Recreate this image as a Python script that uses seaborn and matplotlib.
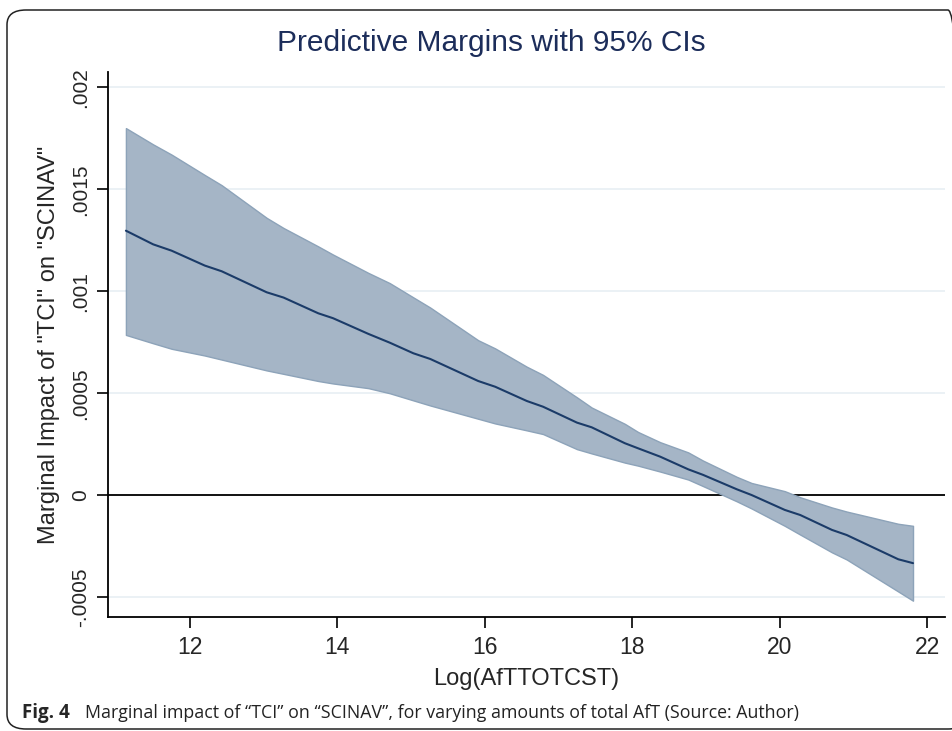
import numpy as np
import pandas as pd
import matplotlib
matplotlib.use("Agg")
import matplotlib.pyplot as plt
import seaborn as sns
from matplotlib.patches import FancyBboxPatch

# values
log_aft = [11.13, 11.50, 11.75, 12.20, 12.43, 13.04, 13.27, 13.74, 13.94, 14.42,
           14.71, 15.03, 15.26, 15.91, 16.14, 16.57, 16.79, 17.25, 17.45, 17.90,
           18.08, 18.38, 18.76, 18.96, 19.42, 19.62, 20.07, 20.28, 20.71, 20.91,
           21.61, 21.81]
margin = [0.001297, 0.001230, 0.001199, 0.001126, 0.001098, 0.000995, 0.000969,
          0.000892, 0.000868, 0.000791, 0.000748, 0.000696, 0.000668, 0.000560,
          0.000532, 0.000462, 0.000434, 0.000356, 0.000333, 0.000255, 0.000230,
          0.000189, 0.000127, 0.000100, 0.000029, 0.000001, -0.000072, -0.000097,
          -0.000170, -0.000195, -0.000314, -0.000333]
ci_upper = [0.00180, 0.00172, 0.00167, 0.00157, 0.00152, 0.00136, 0.00131,
            0.00122, 0.00118, 0.00109, 0.00104, 0.00097, 0.00092, 0.00076,
            0.00072, 0.00063, 0.00059, 0.00048, 0.00043, 0.00035, 0.00031,
            0.00026, 0.00021, 0.00017, 0.00009, 0.00006, 0.00002, -0.00001,
            -0.00006, -0.00008, -0.00014, -0.00015]
ci_lower = [0.000786, 0.000745, 0.000718, 0.000685, 0.000665, 0.000612, 0.000595,
            0.000560, 0.000548, 0.000525, 0.000500, 0.000465, 0.000440, 0.000375,
            0.000352, 0.000318, 0.000300, 0.000226, 0.000205, 0.000160, 0.000145,
            0.000116, 0.000077, 0.000045, -0.000030, -0.000065, -0.000150,
            -0.000193, -0.000280, -0.000315, -0.000472, -0.000517]

y_ticks = [-0.0005, 0, 0.0005, 0.001, 0.0015, 0.002]
y_tick_labels = ["-.0005", "0", ".0005", ".001", ".0015", ".002"]
x_ticks = [12, 14, 16, 18, 20, 22]

df = pd.DataFrame({"x": log_aft, "y": margin, "lo": ci_lower, "hi": ci_upper})

sns.set_style("white")
plt.rcParams["font.family"] = ["Liberation Sans", "DejaVu Sans"]

fig = plt.figure(figsize=(9.53, 7.31), dpi=100)
ax = fig.add_axes([108 / 953, 114 / 731, 837 / 953, 545 / 731])

# outer rounded frame
frame = FancyBboxPatch((7 / 953, 2 / 731), 960 / 953, 719 / 731,
                       boxstyle="round,pad=0,rounding_size=0.02",
                       transform=fig.transFigure, fill=False,
                       edgecolor="#222222", lw=1.1, clip_on=False)
fig.patches.append(frame)

for t in y_ticks:
    ax.axhline(t, color="#e8eff3", lw=1.2, zorder=0)
ax.axhline(0, color="black", lw=1.3, zorder=1)

ax.fill_between(df["x"], df["lo"], df["hi"], color="#a5b5c6",
                edgecolor="#8da3b9", lw=1, zorder=2)
sns.lineplot(data=df, x="x", y="y", ax=ax, color="#1b3b68", lw=1.5, zorder=3)

ax.set_xlim(10.887, 22.244)
ax.set_ylim(-0.000597, 0.002075)
ax.set_xticks(x_ticks)
ax.set_yticks(y_ticks)
ax.set_yticklabels(y_tick_labels, rotation=90, va="center")
ax.tick_params(axis="x", bottom=True, direction="out", length=8, width=1.2,
               labelsize=16.5, pad=6, color="black")
ax.tick_params(axis="y", left=True, direction="out", length=8, width=1.2,
               labelsize=15, pad=5, color="black")

for s in ["top", "right"]:
    ax.spines[s].set_visible(False)
for s in ["left", "bottom"]:
    ax.spines[s].set_color("black")
    ax.spines[s].set_linewidth(1.3)

ax.set_xlabel("Log(AfTTOTCST)", fontsize=17, labelpad=6)
ax.set_ylabel('Marginal Impact of "TCI" on "SCINAV"', fontsize=17, labelpad=8)

fig.text(491 / 953, 1 - 43 / 731, "Predictive Margins with 95% CIs",
         ha="center", va="center", fontsize=21.5, color="#1c2d5a")

fig.text(22 / 953, 1 - 713 / 731, "Fig. 4", ha="left", va="center",
         fontsize=13.5, fontweight="bold", family=["Open Sans", "DejaVu Sans"])
fig.text(85 / 953, 1 - 713 / 731,
         "Marginal impact of \u201cTCI\u201d on \u201cSCINAV\u201d, for varying amounts of total AfT (Source: Author)",
         ha="left", va="center", fontsize=12.8, color="#222222",
         family=["Open Sans", "DejaVu Sans"])

fig.savefig("out.png", dpi=100)
